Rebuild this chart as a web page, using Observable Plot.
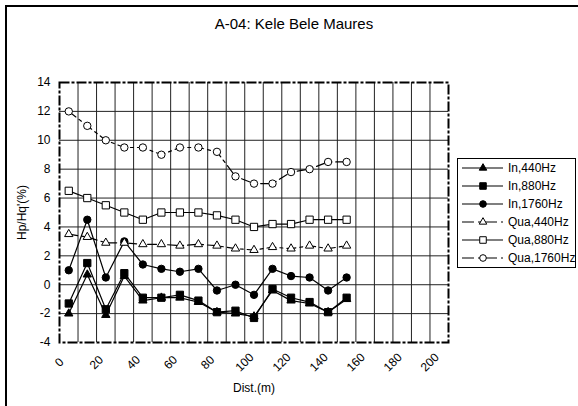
<!DOCTYPE html>
<html><head><meta charset="utf-8">
<script src="https://cdn.jsdelivr.net/npm/d3@7"></script>
<script src="https://cdn.jsdelivr.net/npm/@observablehq/plot@0.6"></script>
<style>
body{margin:0;background:#fff;font-family:"Liberation Sans",Arial,sans-serif;}
#wrap{position:relative;width:578px;height:406px;overflow:hidden;background:#fff}
#border{position:absolute;left:5px;top:5px;width:640px;height:460px;border-left:2px solid #000;border-top:2px solid #000;}
#title{position:absolute;left:0;width:588px;top:15px;text-align:center;font-size:15px;color:#000}
#legend{position:absolute;left:457px;top:158px;width:117px;height:108px;border:1px solid #000;background:#fff}
#chart{position:absolute;left:0;top:0}
</style></head><body>
<div id="wrap"><div id="border"></div><div id="chart"></div><div id="title">A-04: Kele Bele Maures</div><div id="legend"></div></div>
<script>
const dist    = [5, 15, 25, 35, 45, 55, 65, 75, 85, 95, 105, 115, 125, 135, 145, 155];
const in440   = [-2.0, 0.7, -2.1, 0.6, -1.1, -0.9, -0.9, -1.2, -1.9, -2.0, -2.2, -0.4, -1.1, -1.3, -1.9, -1.0];
const in880   = [-1.3, 1.5, -1.7, 0.8, -0.9, -0.9, -0.7, -1.1, -1.9, -1.8, -2.3, -0.3, -0.9, -1.2, -1.9, -0.9];
const in1760  = [1.0, 4.5, 0.5, 3.0, 1.4, 1.1, 0.9, 1.1, -0.4, 0.0, -0.7, 1.1, 0.6, 0.5, -0.4, 0.5];
const qua440  = [3.5, 3.3, 2.9, 2.9, 2.8, 2.8, 2.7, 2.8, 2.7, 2.5, 2.4, 2.6, 2.5, 2.7, 2.5, 2.7];
const qua880  = [6.5, 6.0, 5.5, 5.0, 4.5, 5.0, 5.0, 5.0, 4.8, 4.5, 4.0, 4.2, 4.2, 4.5, 4.5, 4.5];
const qua1760 = [12.0, 11.0, 10.0, 9.5, 9.5, 9.0, 9.5, 9.5, 9.2, 7.5, 7.0, 7.0, 7.8, 8.0, 8.5, 8.5];
const seriesNames = ["In,440Hz", "In,880Hz", "In,1760Hz", "Qua,440Hz", "Qua,880Hz", "Qua,1760Hz"];
const xTicks = [0, 20, 40, 60, 80, 100, 120, 140, 160, 180, 200];
const yTicks = [-4, -2, 0, 2, 4, 6, 8, 10, 12, 14];
const xLabel = "Dist.(m)";
const yLabel = "Hp/Hq'(%)";

const DASH = "9,4,3,4";
const RS = {triangle: 3.1, square: 4.1, circle: 3.7};
const series = [
  {name: seriesNames[0], values: in440,  symbol: "triangle", fill: "#000", dash: null},
  {name: seriesNames[1], values: in880,  symbol: "square",   fill: "#000", dash: null},
  {name: seriesNames[2], values: in1760, symbol: "circle",   fill: "#000", dash: null},
  {name: seriesNames[3], values: qua440, symbol: "triangle", fill: "#fff", dash: DASH},
  {name: seriesNames[4], values: qua880, symbol: "square",   fill: "#fff", dash: null},
  {name: seriesNames[5], values: qua1760,symbol: "circle",   fill: "#fff", dash: DASH}
];
const rows = series.flatMap(s => dist.map((d, i) => ({x: d, y: s.values[i], name: s.name})));

const xGrid = d3.range(10, 210, 10);
const yGrid = yTicks.slice(1, -1);

const marks = [
  Plot.ruleX(xGrid, {stroke: "#222", strokeWidth: 1}),
  Plot.ruleY(yGrid, {stroke: "#222", strokeWidth: 1})
];
for (const s of series) {
  const data = rows.filter(r => r.name === s.name);
  marks.push(Plot.line(data, {x: "x", y: "y", stroke: "#000", strokeWidth: 1.2, strokeDasharray: s.dash || undefined}));
}
for (const s of series) {
  const data = rows.filter(r => r.name === s.name);
  marks.push(Plot.dot(data, {x: "x", y: "y", symbol: () => s.symbol, r: RS[s.symbol], fill: s.fill, stroke: "#000", strokeWidth: 1}));
}
marks.push(
  Plot.frame({stroke: "#000", strokeWidth: 2, strokeDasharray: "10,2,3,2"}),
  Plot.axisY(yTicks, {tickSize: 0, tickPadding: 9, tickFormat: d => String(d), label: null, fontSize: 12}),
  Plot.text(xTicks, {x: d => d, y: () => -4, dy: 20, rotate: -45, text: d => String(d), textAnchor: "middle", fontSize: 12}),
  Plot.text([xLabel], {frameAnchor: "bottom", dy: 46, textAnchor: "middle", lineAnchor: "middle", fontSize: 12}),
  Plot.text([yLabel], {frameAnchor: "left", dx: -37, rotate: -90, textAnchor: "middle", lineAnchor: "middle", fontSize: 12})
);

const chart = Plot.plot({
  width: 578, height: 406,
  marginLeft: 59, marginRight: 130, marginTop: 82, marginBottom: 64,
  x: {domain: [0, 210], axis: null},
  y: {domain: [-4, 14]},
  style: {fontFamily: "'Liberation Sans', Arial, sans-serif", fontSize: "12px", background: "transparent", color: "#000"},
  marks
});
document.getElementById("chart").appendChild(chart);

// legend
const lg = d3.select("#legend").append("svg").attr("width", 117).attr("height", 108)
  .style("font-family", "'Liberation Sans', Arial, sans-serif").style("font-size", "12px");
const symMap = {triangle: d3.symbolTriangle, square: d3.symbolSquare, circle: d3.symbolCircle};
series.forEach((s, i) => {
  const y = 9 + i * 18;
  const r = RS[s.symbol] * 0.9;
  const g = lg.append("g").attr("transform", `translate(0,${y})`);
  g.append("line").attr("x1", 4).attr("x2", 45).attr("y1", 0).attr("y2", 0)
    .attr("stroke", "#000").attr("stroke-width", 1.2).attr("stroke-dasharray", s.dash ? "12,4,3,4" : null);
  g.append("path").attr("d", d3.symbol(symMap[s.symbol], r * r * Math.PI)())
    .attr("transform", "translate(25,0)").attr("fill", s.fill).attr("stroke", "#000");
  g.append("text").attr("x", 50).attr("y", 0).attr("dy", "0.35em").text(s.name);
});
</script>
</body></html>
